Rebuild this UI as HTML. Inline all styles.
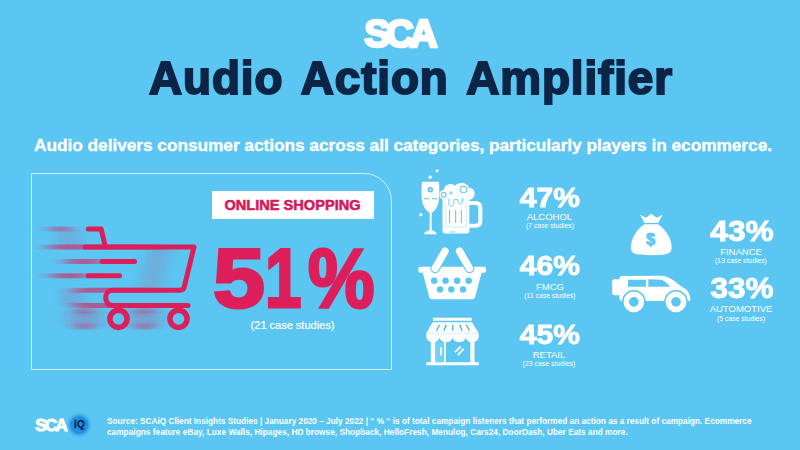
<!DOCTYPE html>
<html><head><meta charset="utf-8">
<style>
html,body{margin:0;padding:0;}
body{width:800px;height:450px;background:#5bc6f2;overflow:hidden;position:relative;font-family:"Liberation Sans",sans-serif;}
.abs{position:absolute;white-space:nowrap;line-height:1;}
#sca{left:364.2px;top:15px;font-size:38.6px;font-weight:bold;color:#fff;letter-spacing:-4.2px;-webkit-text-stroke:2.6px #fff;}
#title{left:10.5px;width:800px;text-align:center;top:56.2px;font-size:45.5px;font-weight:bold;color:#0c2547;transform:scaleX(1.007);-webkit-text-stroke:2px #0c2547;letter-spacing:.9px;word-spacing:5.5px;}
#sub{left:3px;width:800px;text-align:center;top:137px;font-size:17.3px;font-weight:bold;color:#fff;letter-spacing:-.04px;-webkit-text-stroke:.35px #fff;}
#frame{position:absolute;left:31px;top:173px;width:361px;height:197px;border:1px solid rgba(255,255,255,.7);border-top-right-radius:28px;box-sizing:border-box;}
#label{position:absolute;left:212px;top:191px;width:162px;height:27.7px;background:#fff;}
#labeltxt{left:212px;width:161px;text-align:center;top:198.3px;font-size:14.6px;font-weight:bold;color:#d31a5a;-webkit-text-stroke:.55px #d31a5a;}
.big{top:237.4px;font-size:83px;font-weight:bold;color:#dc1f5a;transform-origin:0 0;-webkit-text-stroke:3px #dc1f5a;}
#bigsub{left:212px;width:161px;text-align:center;top:319.5px;font-size:11px;color:#fff;-webkit-text-stroke:.2px #fff;}
.pct{font-size:28.4px;font-weight:bold;color:#fff;text-align:center;width:100px;transform:scaleX(1.06);-webkit-text-stroke:.9px #fff;}
.cat{font-size:9.5px;color:#fff;text-align:center;width:100px;}
.cs{font-size:6.8px;color:#fff;text-align:center;width:100px;}
#foot{left:107px;top:416px;font-size:8.28px;font-weight:bold;color:#fff;line-height:11px;white-space:nowrap;}
#sca2{left:35.3px;top:416.8px;font-size:17.3px;font-weight:bold;color:#fff;letter-spacing:-2px;-webkit-text-stroke:1px #fff;}
#iq{left:69.4px;width:20px;text-align:center;top:419.8px;font-size:10px;font-weight:bold;color:#0c2547;-webkit-text-stroke:.3px #0c2547;}
svg#ic{position:absolute;left:0;top:0;}
</style></head><body>
<svg id="ic" width="800" height="450" viewBox="0 0 800 450">
<defs>
<filter id="hb" x="-50%" y="-20%" width="200%" height="140%"><feGaussianBlur stdDeviation="8.5 0.4"/></filter>
<radialGradient id="iqg"><stop offset="0" stop-color="#1f8fe0"/><stop offset=".6" stop-color="#2a96e4"/><stop offset="1" stop-color="#5bc6f2" stop-opacity="0"/></radialGradient>
<g id="cart" fill="none" stroke="#dc1f5a" stroke-width="5" stroke-linecap="round" stroke-linejoin="round">
<path d="M88.3,229 H101.2 L105.3,246.7"/>
<path d="M85,246.9 H194 L184.2,287.2 Q183.4,290.2 180,290.2 H113 C103.2,290.2 103.2,305.4 113,305.4 H188"/>
<path d="M102,261.6 H134.5 M88,275.8 H119.5"/>
<circle cx="118.5" cy="318.8" r="8.6" stroke-width="5.5"/><circle cx="178.5" cy="318.8" r="8.6" stroke-width="5.5"/>
</g>
</defs>
<!-- shopping trolley -->
<g filter="url(#hb)" opacity=".62"><use href="#cart" x="-34"/></g>
<use href="#cart"/>
<!-- wine + beer : origin 410,170 scale 1/6 -->
<g transform="translate(410,170) scale(.16667)" fill="#fff">
<circle cx="163" cy="5" r="9"/><circle cx="121" cy="43" r="10"/><circle cx="65" cy="268" r="10"/>
<path d="M72,70 H173 C177,110 177,150 174,175 C170,215 152,245 130,256 V362 C146,366 160,372 160,386 H85 C85,372 100,366 118,362 V256 C96,245 75,215 71,175 C68,150 68,110 72,70 Z"/>
<circle cx="122" cy="118" r="12" fill="#bfe7f9" stroke="#5bc6f2" stroke-width="9"/>
<path d="M84,173 H116 M132,173 H164" stroke="#5bc6f2" stroke-width="6" fill="none"/>
<path d="M352,198 H392 Q422,198 422,228 V304 Q422,334 392,334 H352" fill="none" stroke="#fff" stroke-width="24"/>
<path d="M195,160 H356 V367 Q356,381 342,381 H209 Q195,381 195,367 Z"/>
<path d="M188,172 C168,152 178,120 204,118 C204,88 246,72 270,94 C290,70 346,73 353,106 C388,106 400,150 373,172 C352,186 325,180 315,170 L315,192 C313,206 290,206 288,192 L288,176 L263,176 L263,205 C260,222 236,222 233,205 L233,172 Z"/>
<path d="M215,200 V342 H337 V200" fill="none" stroke="#5bc6f2" stroke-width="3.5" opacity=".55"/>
<path d="M237,238 V318 M274,238 V318 M308,238 V318" stroke="#5bc6f2" stroke-width="6" fill="none"/>
<path d="M241,372 H272" stroke="#5bc6f2" stroke-width="5" fill="none"/>
<circle cx="202" cy="148" r="14" fill="#fff" stroke="#5bc6f2" stroke-width="6"/>
<circle cx="245" cy="138" r="7" fill="#fff" stroke="#5bc6f2" stroke-width="5"/>
<circle cx="321" cy="117" r="20" fill="#fff" stroke="#5bc6f2" stroke-width="6"/>
<path d="M233,172 V205 C236,222 260,222 263,205 V178 H288 V192 C290,206 313,206 315,192 V165" fill="none" stroke="#5bc6f2" stroke-width="5"/>
</g>
<!-- basket : origin 410,240 -->
<g transform="translate(410,240) scale(.16667)" fill="#fff">
<rect x="50" y="160" width="406" height="36" rx="12"/>
<path d="M75,190 H431 L390,345 Q387,356 375,356 H131 Q119,356 116,345 Z"/>
<path d="M210,67 L151,170 M297,67 L357,170" stroke="#5bc6f2" stroke-width="58" stroke-linecap="round"/>
<path d="M210,67 L151,170 M297,67 L357,170" stroke="#fff" stroke-width="44" stroke-linecap="round"/>
<g fill="#5bc6f2"><circle cx="145" cy="245" r="19.5"/><circle cx="213" cy="245" r="19.5"/><circle cx="283" cy="245" r="19.5"/><circle cx="352" cy="245" r="19.5"/>
<circle cx="180" cy="297" r="19.5"/><circle cx="248" cy="297" r="19.5"/><circle cx="318" cy="297" r="19.5"/></g>
</g>
<!-- store : origin 410,310 -->
<g transform="translate(410,310) scale(.16667)" fill="#fff">
<rect x="138" y="47" width="232" height="18" rx="3"/>
<path d="M136,74 H372 L412,138 V165 H98 V138 Z"/>
<path d="M98,162 a39.5,32 0 0 0 79,0 a39,32 0 0 0 78,0 a39.5,32 0 0 0 79,0 a39,32 0 0 0 78,0 Z"/>
<rect x="125" y="165" width="26" height="155"/><rect x="362" y="165" width="25" height="155"/>
<rect x="98" y="313" width="315" height="19" rx="3"/>
<rect x="151" y="190" width="55" height="124" fill="#fff" opacity=".16"/>
<rect x="205" y="185" width="10" height="132"/>
<rect x="180" y="224" width="12" height="48" rx="4"/>
<path d="M186,234 v6 M186,256 v6" stroke="#5bc6f2" stroke-width="4"/>
<path d="M270,253 L305,219 M287,269 L322,233" stroke="#fff" stroke-width="11" fill="none"/>
<path d="M178,88 L159,124 M218,88 L203,124 M257,88 V124 M298,88 L313,124 M338,88 L357,124" stroke="#3fb0dd" stroke-width="7.5" fill="none"/>
<path d="M100,140 H410" stroke="#5bc6f2" stroke-width="3" opacity=".6"/>
</g>
<!-- money bag : origin 600,200 -->
<g transform="translate(600,200) scale(.16667)" fill="#fff">
<path d="M240,88 L276,106 L307,82 L340,106 L376,88 C366,108 354,124 350,138 H265 C262,124 250,108 240,88 Z"/>
<path d="M266,146 H349 C410,185 432,255 430,288 C428,325 395,331 307,331 C220,331 187,325 185,288 C183,255 205,185 266,146 Z"/>
</g>
<text x="650.7" y="245.3" text-anchor="middle" font-family="Liberation Sans, sans-serif" font-weight="bold" font-size="16.5" fill="#5bc6f2" stroke="#5bc6f2" stroke-width=".7">$</text>
<!-- vehicle : origin 600,265 -->
<g transform="translate(600,265) scale(.16667)" fill="#fff">
<rect x="73" y="86" width="56" height="96" rx="14"/>
<path d="M117,80 Q117,66 133,66 L372,64 C420,68 458,106 494,134 C528,146 540,178 543,206 Q543,216 532,216 H133 Q117,216 117,204 Z"/>
<circle cx="203" cy="221" r="71" fill="#5bc6f2"/><circle cx="456" cy="221" r="71" fill="#5bc6f2"/>
<circle cx="203" cy="221" r="45.5" fill="none" stroke="#fff" stroke-width="33"/><circle cx="456" cy="221" r="45.5" fill="none" stroke="#fff" stroke-width="33"/>
<path d="M168,88 H276 V130 H168 Z M290,86 L372,88 Q398,102 420,130 H290 Z" fill="#5bc6f2"/>
</g>
<!-- iQ logo -->
<circle cx="79.2" cy="425" r="14" fill="url(#iqg)"/>
<circle cx="79.2" cy="425" r="8.6" fill="#2090e2"/>
</svg>
<div class="abs" id="sca">SCA</div>
<div class="abs" id="title">Audio Action Amplifier</div>
<div class="abs" id="sub">Audio delivers consumer actions across all categories, particularly players in ecommerce.</div>
<div id="frame"></div>
<div id="label"></div>
<div class="abs" id="labeltxt">ONLINE SHOPPING</div>
<div class="abs big" id="b5" style="left:213.2px;transform:scaleX(1.125)">5</div><div class="abs big" id="b1" style="left:265.3px;transform:scaleX(.79)">1</div><div class="abs big" id="bp" style="left:307.8px;transform:scaleX(.9)">%</div>
<div class="abs" id="bigsub">(21 case studies)</div>

<div class="abs pct" id="p1" style="left:500px;top:183.4px">47%</div>
<div class="abs cat" id="c1" style="left:499.4px;top:212px">ALCOHOL</div>
<div class="abs cs" id="s1" style="left:500px;top:223px">(7 case studies)</div>

<div class="abs pct" id="p2" style="left:500.2px;top:251.2px">46%</div>
<div class="abs cat" id="c2" style="left:500px;top:282px">FMCG</div>
<div class="abs cs" id="s2" style="left:500px;top:293px">(11 case studies)</div>

<div class="abs pct" id="p3" style="left:500.2px;top:320.4px">45%</div>
<div class="abs cat" id="c3" style="left:499px;top:350px">RETAIL</div>
<div class="abs cs" id="s3" style="left:499px;letter-spacing:.06px;top:361px">(23 case studies)</div>

<div class="abs pct" id="p4" style="left:691.5px;top:217.1px;font-size:28.8px;transform:scaleX(1.1)">43%</div>
<div class="abs cat" id="c4" style="left:691px;top:247px">FINANCE</div>
<div class="abs cs" id="s4" style="left:691px;top:258px">(13 case studies)</div>

<div class="abs pct" id="p5" style="left:691.9px;top:273.5px;font-size:28.8px;transform:scaleX(1.095)">33%</div>
<div class="abs cat" id="c5" style="left:691px;top:304px">AUTOMOTIVE</div>
<div class="abs cs" id="s5" style="left:691px;top:316px">(5 case studies)</div>

<div class="abs" id="sca2">SCA</div>
<div class="abs" id="iq">iQ</div>
<div class="abs" id="foot">Source: SCAiQ Client Insights Studies | January 2020 – July 2022 | “ % “ is of total campaign listeners that performed an action as a result of campaign. Ecommerce<br><span style="letter-spacing:.025px">campaigns feature eBay, Luxe Walls, Hipages, HD browse, Shopback, HelloFresh, Menulog, Cars24, DoorDash, Uber Eats and more.</span></div>
</body></html>
